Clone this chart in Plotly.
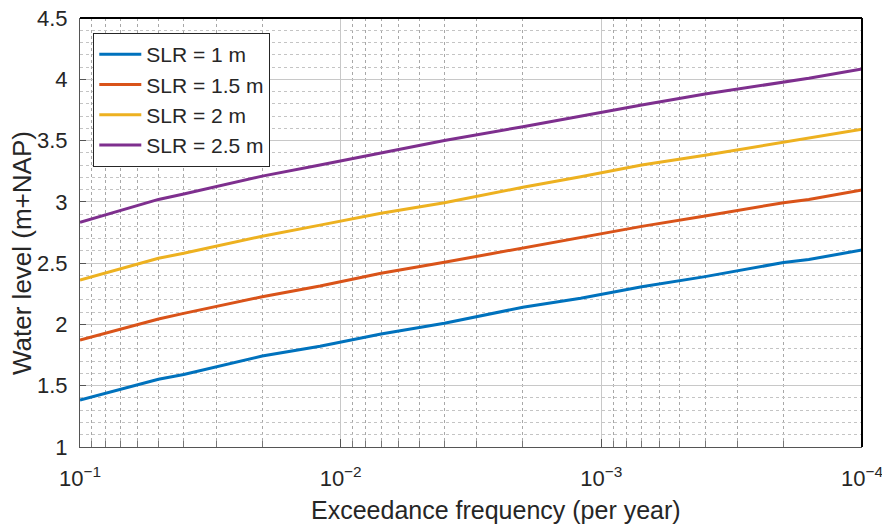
import plotly.graph_objects as go

# Exceedance frequency (per year)
freq = [0.1, 0.05, 0.04, 0.02, 0.012, 0.007, 0.004, 0.002, 0.0012, 0.0007,
        0.0004, 0.0002, 0.00016, 0.0001]
slr_1 = [1.383, 1.553, 1.592, 1.742, 1.822, 1.922, 2.009, 2.140, 2.213, 2.308,
         2.390, 2.505, 2.530, 2.607]
slr_15 = [1.873, 2.044, 2.090, 2.226, 2.313, 2.417, 2.507, 2.626, 2.708, 2.800,
          2.885, 2.993, 3.020, 3.097]
slr_2 = [2.362, 2.540, 2.580, 2.720, 2.810, 2.907, 2.993, 3.119, 3.205, 3.300,
         3.380, 3.485, 3.520, 3.592]
slr_25 = [2.833, 3.020, 3.064, 3.210, 3.300, 3.400, 3.500, 3.613, 3.700, 3.790,
          3.880, 3.980, 4.008, 4.084]

series_names = ["SLR = 1 m", "SLR = 1.5 m", "SLR = 2 m", "SLR = 2.5 m"]
series_vals = [slr_1, slr_15, slr_2, slr_25]
colors = ["#0072BD", "#D95319", "#EDB120", "#7E2F8E"]

x_tickvals = [1e-1, 1e-2, 1e-3, 1e-4]
x_ticktext = ["10<sup>\u22121</sup>", "10<sup>\u22122</sup>",
              "10<sup>\u22123</sup>", "10<sup>\u22124</sup>"]
x_minor = [m * 10.0 ** e for e in (-4, -3, -2) for m in range(2, 10)]
y_tickvals = [1, 1.5, 2, 2.5, 3, 3.5, 4, 4.5]
y_ticktext = ["1", "1.5", "2", "2.5", "3", "3.5", "4", "4.5"]

fig = go.Figure()
for name, vals, c in zip(series_names, series_vals, colors):
    fig.add_trace(go.Scatter(x=freq, y=vals, mode="lines", name=name,
                             line=dict(color=c, width=3)))

font_family = "Liberation Sans, Arial, sans-serif"
fig.update_layout(
    width=882, height=526,
    margin=dict(l=80, r=20, t=18, b=79, autoexpand=False),
    paper_bgcolor="white", plot_bgcolor="white",
    font=dict(family=font_family, color="#262626", size=21),
    showlegend=True,
    legend=dict(x=0.017, y=0.965, xanchor="left", yanchor="top",
                bgcolor="white", bordercolor="#262626", borderwidth=1,
                font=dict(size=21, color="#262626"),
                tracegroupgap=0, itemwidth=42),
    xaxis=dict(type="log", range=[-1, -4], autorange=False, automargin=False,
               tickvals=x_tickvals, ticktext=x_ticktext,
               ticklabeloverflow="allow",
               ticks="inside", ticklen=8, tickcolor="#555555",
               showline=True, linecolor="#555555", linewidth=1, mirror=False,
               showgrid=True, gridcolor="#c8c8c8", gridwidth=1,
               zeroline=False, ticklabelstandoff=12,
               tickfont=dict(size=22, color="#262626"),
               minor=dict(tickvals=x_minor, ticks="inside", ticklen=6,
                          tickcolor="#777777", showgrid=True,
                          gridcolor="#a8a8a8", griddash="dot", gridwidth=1)),
    yaxis=dict(range=[1, 4.5], autorange=False, automargin=False,
               tickvals=y_tickvals, ticktext=y_ticktext,
               ticklabeloverflow="allow",
               ticks="inside", ticklen=6, tickcolor="#555555",
               showline=True, linecolor="#555555", linewidth=1, mirror=False,
               showgrid=True, gridcolor="#c8c8c8", gridwidth=1,
               zeroline=False, ticklabelstandoff=7,
               tickfont=dict(size=22, color="#262626"),
               minor=dict(dtick=0.1, showgrid=True, gridcolor="#c4c4c4",
                          griddash="dot", gridwidth=1)),
    shapes=[
        dict(type="line", xref="paper", yref="paper", x0=0, x1=1, y0=1, y1=1,
             line=dict(color="black", width=2)),
        dict(type="line", xref="paper", yref="paper", x0=1, x1=1, y0=0, y1=1,
             line=dict(color="black", width=2)),
    ],
    annotations=[
        dict(text="Exceedance frequency (per year)", xref="paper", yref="paper",
             x=(496 - 80) / 782, y=-(510 - 447) / 429, xanchor="center",
             yanchor="middle", showarrow=False,
             font=dict(size=25, color="#262626", family=font_family)),
        dict(text="Water level (m+NAP)", xref="paper", yref="paper",
             x=-(80 - 22) / 782, y=(447 - 253) / 429, xanchor="center",
             yanchor="middle", showarrow=False, textangle=-90,
             font=dict(size=26, color="#262626", family=font_family)),
    ],
)

fig.write_html("out.html")
